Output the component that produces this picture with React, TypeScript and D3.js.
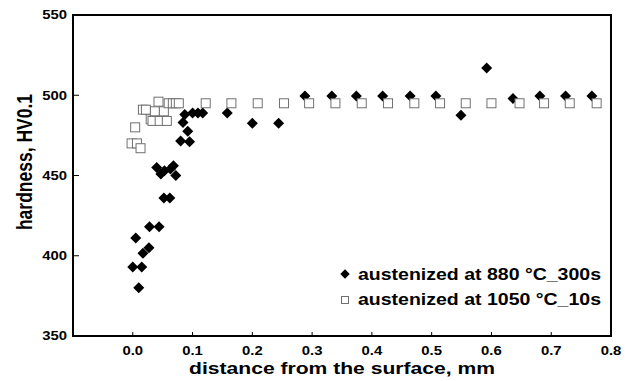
import * as d3 from "d3";

// austenized at 880 °C_300s (filled diamonds)
const distA = [
  0.0, 0.005, 0.01, 0.015, 0.017, 0.027, 0.028, 0.044, 0.052, 0.062,
  0.04, 0.047, 0.053, 0.063, 0.068, 0.072, 0.08, 0.095, 0.092, 0.084,
  0.087, 0.1, 0.109, 0.117, 0.158, 0.2, 0.244, 0.288, 0.333, 0.374,
  0.418, 0.464, 0.507, 0.549, 0.592, 0.636, 0.681, 0.724, 0.768,
];
const hvA = [
  393, 411, 380, 393, 401.5, 405, 418, 418, 436, 436,
  455, 451, 453, 454, 456, 450, 471.5, 471, 477.5, 483,
  488, 489, 489, 489, 489, 482.5, 482.5, 499.5, 499.5, 499.5,
  499.5, 499.5, 499.5, 487.5, 517, 498, 499.5, 499.5, 499.5,
];

// austenized at 1050 °C_10s (open squares)
const distB = [
  -0.002, 0.007, 0.013, 0.004, 0.017, 0.022, 0.03, 0.033, 0.045, 0.057,
  0.037, 0.052, 0.043, 0.06, 0.067, 0.072, 0.077, 0.122, 0.165, 0.209,
  0.253, 0.295, 0.339, 0.383, 0.427, 0.471, 0.514, 0.557, 0.6, 0.647,
  0.688, 0.731, 0.776,
];
const hvB = [
  470, 470, 467, 480, 491, 491, 485, 484, 484, 484,
  490, 490, 496, 495, 495, 495, 495, 495, 495, 495,
  495, 495, 495, 495, 495, 495, 495, 495, 495, 495,
  495, 495, 495,
];

const xTicks = [0, 0.1, 0.2, 0.3, 0.4, 0.5, 0.6, 0.7, 0.8];
const yTicks = [350, 400, 450, 500, 550];
const legendLabels = ["austenized at 880 °C_300s", "austenized at 1050 °C_10s"];

const width = 625;
const height = 381;
const margin = { top: 15, right: 14, bottom: 45, left: 73 };
const SX = 1.22; // text in the picture is horizontally stretched
const font = "'Liberation Sans', Arial, sans-serif";

export default function App() {
  const x = d3
    .scaleLinear()
    .domain([-0.1, 0.8])
    .range([margin.left, width - margin.right]);
  const y = d3
    .scaleLinear()
    .domain([350, 550])
    .range([height - margin.bottom, margin.top]);

  const diamond = (cx: number, cy: number, r: number) =>
    `M${cx},${cy - r}L${cx + r},${cy}L${cx},${cy + r}L${cx - r},${cy}Z`;

  const x0 = margin.left;
  const x1 = width - margin.right;
  const y0 = height - margin.bottom;
  const y1 = margin.top;

  return (
    <svg
      width={width}
      height={height}
      style={{ position: "absolute", left: 0, top: 0, background: "#fff" }}
      fontFamily={font}
      fontWeight="bold"
    >
      {/* ticks */}
      {yTicks.map((t) => (
        <g key={"yt" + t}>
          <line x1={x0} x2={x0 + 6} y1={y(t)} y2={y(t)} stroke="#000" strokeWidth={1} />
          <g transform={`translate(${x0 - 6},${y(t) + 4.3}) scale(${SX},1)`}>
            <text textAnchor="end" fontSize={12.2} fill="#000">
              {t}
            </text>
          </g>
        </g>
      ))}
      {xTicks.map((t) => (
        <g key={"xt" + t}>
          <line x1={x(t)} x2={x(t)} y1={y0} y2={y0 - 4} stroke="#000" strokeWidth={1} />
          <g transform={`translate(${x(t)},${y0 + 18.5}) scale(${SX},1)`}>
            <text textAnchor="middle" fontSize={12.2} fill="#000">
              {d3.format(".1f")(t)}
            </text>
          </g>
        </g>
      ))}

      {/* series */}
      {distA.map((d, i) => (
        <path key={"a" + i} d={diamond(x(d), y(hvA[i]), 5.5)} fill="#000" />
      ))}
      {distB.map((d, i) => (
        <rect
          key={"b" + i}
          x={x(d) - 4.5}
          y={y(hvB[i]) - 4.5}
          width={9}
          height={9}
          fill="#fff"
          stroke="#707070"
          strokeWidth={1}
        />
      ))}

      {/* frame */}
      <rect x={x0} y={y1} width={x1 - x0} height={y0 - y1} fill="none" stroke="#000" strokeWidth={2} />

      {/* axis titles */}
      <g transform={`translate(${(x0 + x1) / 2},${374}) scale(${SX},1)`}>
        <text textAnchor="middle" fontSize={17.3} fill="#000">
          distance from the surface, mm
        </text>
      </g>
      <g transform={`translate(${32},${162}) scale(${SX},1) rotate(-90)`}>
        <text textAnchor="middle" fontSize={17.5} fill="#000">
          hardness, HV0.1
        </text>
      </g>

      {/* legend */}
      <path d={diamond(345, 274, 4.7)} fill="#000" />
      <rect x={341.5} y={296.5} width={7} height={7} fill="#fff" stroke="#707070" strokeWidth={1} />
      {legendLabels.map((l, i) => (
        <g key={l} transform={`translate(358,${280 + i * 25}) scale(${SX},1)`}>
          <text fontSize={16} fill="#000">
            {l}
          </text>
        </g>
      ))}
    </svg>
  );
}
